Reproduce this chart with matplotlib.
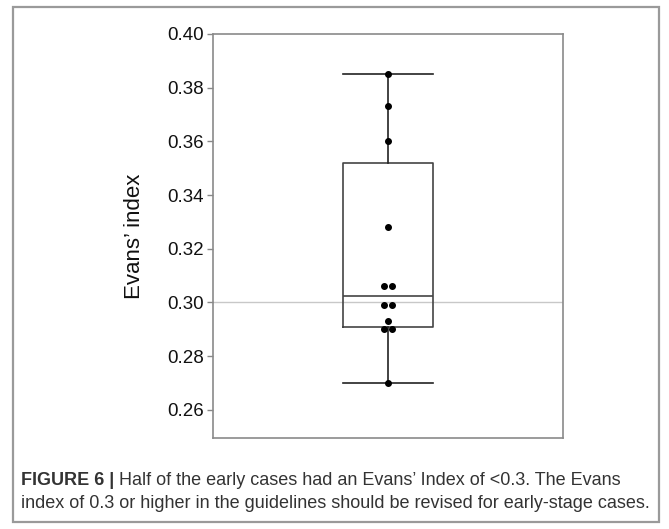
"""Evans' index box plot of the early cases, with the caption box."""
import matplotlib

matplotlib.use("Agg")

import matplotlib.pyplot as plt
import numpy as np
from matplotlib.patches import Rectangle

plt.rcParams["font.family"] = ["Liberation Sans", "DejaVu Sans"]

evans_index = [0.385, 0.373, 0.360, 0.328, 0.306, 0.306,
               0.299, 0.299, 0.293, 0.290, 0.290, 0.270]
threshold = 0.30
y_ticks = [0.26, 0.28, 0.30, 0.32, 0.34, 0.36, 0.38, 0.40]
y_label = "Evans\u2019 index"
caption_bold = "FIGURE 6 |"
caption_line1 = " Half of the early cases had an Evans\u2019 Index of <0.3. The Evans"
caption_line2 = "index of 0.3 or higher in the guidelines should be revised for early-stage cases."

W, H = 669, 529
fig = plt.figure(figsize=(W / 100, H / 100), dpi=100)
fig.patch.set_facecolor("white")

# outer caption frame
fig.add_artist(Rectangle((13 / W, 1 - 522 / H), 646 / W, 515 / H, transform=fig.transFigure,
                         fill=False, edgecolor="#9a9a9a", linewidth=1.6))

ax = fig.add_axes([213 / W, 1 - 438 / H, 350 / W, 404 / H])

vals = np.array(evans_index)
q1, med, q3 = np.percentile(vals, [25, 50, 75], method="weibull")
stats = [{"med": med, "q1": q1, "q3": q3, "whislo": vals.min(), "whishi": vals.max(), "fliers": []}]
line_kw = dict(color="#222222", linewidth=1.2)
ax.bxp(stats, positions=[1], widths=0.255, capwidths=0.255, showfliers=False,
       boxprops=dict(color="#444444", linewidth=1.2), medianprops=dict(color="#444444", linewidth=1.2),
       whiskerprops=line_kw, capprops=line_kw)

# simple swarm: spread identical values side by side
xs = np.ones(len(vals))
for v in np.unique(vals):
    idx = np.where(vals == v)[0]
    if len(idx) > 1:
        xs[idx] = 1 + (np.arange(len(idx)) - (len(idx) - 1) / 2) * 0.021
ax.plot(xs, vals, "o", color="black", markersize=4, zorder=4)

ax.axhline(threshold, color="#c8c8c8", linewidth=1.0, zorder=0)

ax.set_xlim(0.5, 1.5)
ax.set_ylim(0.2495, 0.40)
ax.set_yticks(y_ticks)
ax.set_yticklabels([f"{t:.2f}" for t in y_ticks], fontsize=13.5, color="#111111")
ax.set_xticks([])
ax.tick_params(axis="y", length=4.5, width=1, color="#888888", pad=2)
for sp in ax.spines.values():
    sp.set_color("#8a8a8a")
    sp.set_linewidth(1.2)
ax.set_ylabel(y_label, fontsize=16, color="#111111", labelpad=16)

# caption
x0 = 21 / W
t_bold = fig.text(x0, 1 - 485 / H, caption_bold, fontsize=12, fontweight="bold", color="#333333", va="baseline")
fig.canvas.draw()
renderer = fig.canvas.get_renderer()
bb = t_bold.get_window_extent(renderer)
fig.text(bb.x1 / W, 1 - 485 / H, caption_line1, fontsize=12, color="#333333", va="baseline")
t2 = fig.text(x0, 1 - 508 / H, caption_line2, fontsize=12, color="#333333", va="baseline")
fig.canvas.draw()
w2 = t2.get_window_extent(renderer).width
scale = 629 / w2
for t in fig.texts:
    t.set_fontsize(12 * scale)
fig.canvas.draw()
bb = t_bold.get_window_extent(renderer)
fig.texts[1].set_x(bb.x1 / W)

fig.savefig("out.png", dpi=100)
